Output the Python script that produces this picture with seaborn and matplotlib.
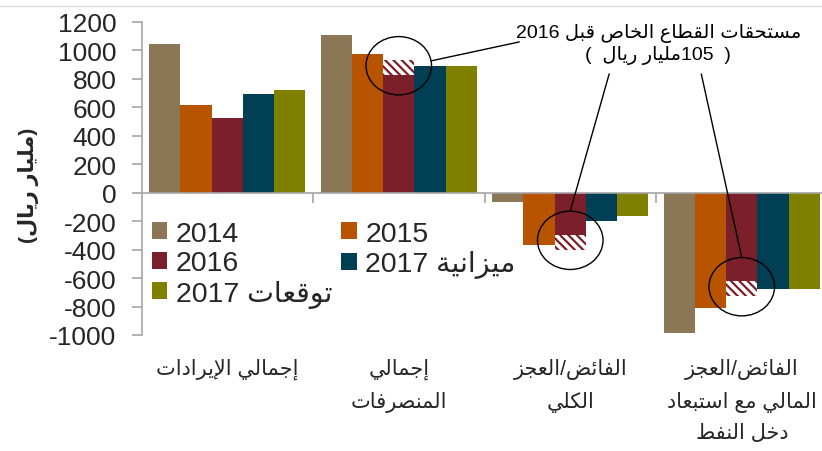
from itertools import groupby

import numpy as np
import pandas as pd
import matplotlib
matplotlib.use("Agg")
import matplotlib.pyplot as plt
import seaborn as sns
from matplotlib.patches import Ellipse
from matplotlib.lines import Line2D
import matplotlib.transforms as mtransforms


CATEGORIES = [
    "إجمالي الإيرادات",
    "إجمالي\nالمنصرفات",
    "الفائض/العجز\nالكلي",
    "الفائض/العجز\nالمالي مع استبعاد\nدخل النفط",
]
SERIES = ["2014", "2015", "2016", "ميزانية 2017", "توقعات 2017"]

V_2014 = [1044, 1109, -66, -985]
V_2015 = [615, 978, -367, -810]
V_2016 = [528, 825, -297, -623]
V_2017_BUDGET = [692, 890, -198, -680]
V_2017_FORECAST = [722, 890, -165, -680]
# private-sector arrears added on top of the 2016 bars (hatched)
ARREARS_2016 = [0, 105, -105, -105]

COLORS = ["#8B7755", "#B85400", "#7B1F2A", "#003F54", "#808000"]

Y_TICKS = [-1000, -800, -600, -400, -200, 0, 200, 400, 600, 800, 1000, 1200]
Y_LABEL = "(مليار ريال)"
NOTE = "مستحقات القطاع الخاص قبل 2016\n(  105مليار ريال  )"


# --- minimal Arabic shaping (matplotlib has no complex text layout) ---
AR_FORMS = {
    "ء": (0xFE80, 1), "آ": (0xFE81, 2), "أ": (0xFE83, 2), "ؤ": (0xFE85, 2),
    "إ": (0xFE87, 2), "ئ": (0xFE89, 4), "ا": (0xFE8D, 2), "ب": (0xFE8F, 4),
    "ة": (0xFE93, 2), "ت": (0xFE95, 4), "ث": (0xFE99, 4), "ج": (0xFE9D, 4),
    "ح": (0xFEA1, 4), "خ": (0xFEA5, 4), "د": (0xFEA9, 2), "ذ": (0xFEAB, 2),
    "ر": (0xFEAD, 2), "ز": (0xFEAF, 2), "س": (0xFEB1, 4), "ش": (0xFEB5, 4),
    "ص": (0xFEB9, 4), "ض": (0xFEBD, 4), "ط": (0xFEC1, 4), "ظ": (0xFEC5, 4),
    "ع": (0xFEC9, 4), "غ": (0xFECD, 4), "ف": (0xFED1, 4), "ق": (0xFED5, 4),
    "ك": (0xFED9, 4), "ل": (0xFEDD, 4), "م": (0xFEE1, 4), "ن": (0xFEE5, 4),
    "ه": (0xFEE9, 4), "و": (0xFEED, 2), "ى": (0xFEEF, 2), "ي": (0xFEF1, 4),
}
LAM_ALEF = {"آ": 0xFEF5, "أ": 0xFEF7, "إ": 0xFEF9, "ا": 0xFEFB}
MIRROR = {"(": ")", ")": "(", "[": "]", "]": "["}


def shape_word(word):
    out = []
    i = 0
    prev_joins = False
    while i < len(word):
        c = word[i]
        nxt = word[i + 1] if i + 1 < len(word) else ""
        if c == "ل" and nxt in LAM_ALEF:
            out.append(chr(LAM_ALEF[nxt] + int(prev_joins)))
            prev_joins = False
            i += 2
            continue
        base, n = AR_FORMS[c]
        joins_next = n == 4 and nxt in AR_FORMS and nxt != "ء"
        if n == 1:
            form = 0
        elif prev_joins and joins_next:
            form = 3
        elif prev_joins:
            form = 1
        elif joins_next:
            form = 2
        else:
            form = 0
        out.append(chr(base + form))
        prev_joins = joins_next
        i += 1
    return "".join(reversed(out))


def run_kind(ch):
    if ch in AR_FORMS:
        return "ar"
    if ch.isdigit():
        return "num"
    return "neutral"


def rtl(text):
    lines = []
    for line in text.split("\n"):
        runs = [(k, "".join(g)) for k, g in groupby(line, key=run_kind)]
        parts = []
        for kind, run in reversed(runs):
            if kind == "ar":
                parts.append(shape_word(run))
            elif kind == "num":
                parts.append(run)
            else:
                parts.append("".join(MIRROR.get(c, c) for c in reversed(run)))
        lines.append("".join(parts))
    return "\n".join(lines)


def main():
    sns.set_theme(style="white")
    plt.rcParams["font.family"] = ["Liberation Sans", "DejaVu Sans"]
    plt.rcParams["axes.unicode_minus"] = False
    plt.rcParams["hatch.linewidth"] = 1.6

    cats = [rtl(c) for c in CATEGORIES]
    series = [rtl(s) for s in SERIES]

    df = pd.DataFrame({
        "category": np.tile(cats, len(series)),
        "series": np.repeat(series, len(cats)),
        "value": np.concatenate([V_2014, V_2015, V_2016, V_2017_BUDGET, V_2017_FORECAST]),
    })

    fig = plt.figure(figsize=(8.22, 4.52), dpi=100)
    ax = fig.add_axes([141.5 / 822, 116 / 452, 686 / 822, 313 / 452])

    sns.barplot(
        data=df, x="category", y="value", hue="series",
        order=cats, hue_order=series, palette=COLORS,
        width=0.91, saturation=1, linewidth=0, ax=ax,
    )

    # hatched arrears on top of 2016 bars + circles
    bars_2016 = ax.containers[2]
    ellipses = []
    for patch, extra in zip(bars_2016, ARREARS_2016):
        if extra == 0:
            continue
        cx = patch.get_x() + patch.get_width() / 2
        base = patch.get_y() + patch.get_height()
        ax.bar(cx, extra, bottom=base, width=patch.get_width(),
               facecolor="white", edgecolor=COLORS[2], linewidth=0,
               hatch="\\\\\\\\")
        cy = base + extra / 2 + 15
        ew, eh = 2.1 * patch.get_width(), 410
        ax.add_patch(Ellipse((cx, cy), ew, eh, fill=False, edgecolor="black", linewidth=1, zorder=5))
        ellipses.append((cx, cy, ew, eh))

    # note text and leader lines
    ax.text(2.513, 1048, rtl(NOTE), ha="center", va="center", fontsize=14,
            linespacing=1.25, color="black")
    line_kw = dict(arrowprops=dict(arrowstyle="-", color="black", linewidth=1, shrinkA=0, shrinkB=0))
    cx, cy, ew, eh = ellipses[0]
    ax.annotate("", xy=(cx + ew / 2, cy + 35), xytext=(1.703, 1060), **line_kw)
    cx, cy, ew, eh = ellipses[1]
    ax.annotate("", xy=(cx, cy + eh / 2), xytext=(2.227, 835), **line_kw)
    cx, cy, ew, eh = ellipses[2]
    ax.annotate("", xy=(cx, cy + eh / 2), xytext=(2.764, 835), **line_kw)

    # axes styling
    ax.set_xlim(-0.5, 3.5)
    ax.set_ylim(-1000, 1200)
    ax.set_yticks(Y_TICKS)
    ax.set_yticklabels([str(t) for t in Y_TICKS])
    ax.set_xticks([0.5, 1.5, 2.5])
    ax.set_xticklabels([])
    ax.set_xlabel("")
    ax.set_ylabel(rtl(Y_LABEL), fontsize=15, fontweight="bold")
    ax.yaxis.set_label_coords(-0.15, 0.48)

    for side in ("top", "right"):
        ax.spines[side].set_visible(False)
    for side in ("left", "bottom"):
        ax.spines[side].set_color("#A6A6A6")
        ax.spines[side].set_linewidth(1.2)
    ax.spines["bottom"].set_position(("data", 0))
    ax.tick_params(axis="y", direction="out", length=7, width=1.2, color="#A6A6A6",
                   labelsize=19, pad=11, left=True)
    ax.tick_params(axis="x", direction="out", length=7, width=1.2, color="#A6A6A6", bottom=True)

    # category labels under the plot
    trans = mtransforms.blended_transform_factory(ax.transData, ax.transAxes)
    for i, lab in enumerate(cats):
        ax.text(i, -0.072, lab, transform=trans, ha="center", va="top",
                multialignment="center", fontsize=15, linespacing=1.76)

    # legend: filled column-wise, so reorder to read row-wise
    handles, labels = ax.get_legend_handles_labels()
    order = [0, 2, 4, 1, 3]
    ax.legend([handles[k] for k in order], [labels[k] for k in order],
              ncol=2, frameon=False, loc="upper left", bbox_to_anchor=(0.015, 0.365),
              borderaxespad=0, borderpad=0, fontsize=20.5, handlelength=0.55,
              handleheight=0.55, handletextpad=0.3, columnspacing=0.3, labelspacing=0.12)

    # thin grey rule along the top of the slide
    fig.add_artist(Line2D([0, 1], [1 - 7 / 452, 1 - 7 / 452], color="#E0E0E0", linewidth=1))

    fig.savefig("out.png", dpi=100)
    plt.close(fig)


if __name__ == "__main__":
    main()
